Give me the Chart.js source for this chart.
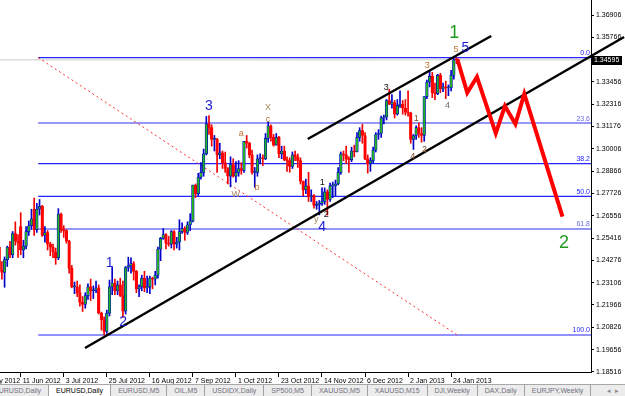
<!DOCTYPE html>
<html>
<head>
<meta charset="utf-8">
<script src="https://cdn.jsdelivr.net/npm/chart.js@4.4.1/dist/chart.umd.min.js"></script>
<style>
  body { margin: 0; background: #fff; width: 625px; height: 396px; overflow: hidden; font-family: "Liberation Sans", Arial, sans-serif; }
  #wrap { position: absolute; left: 0; top: 0; width: 625px; height: 384px; }
  #tabs { position: absolute; left: 0; top: 384px; width: 625px; height: 12px; background: #ececec; border-top: 1px solid #a8a8a8; overflow: hidden; box-sizing: border-box; }
  #tabs .strip { position: absolute; left: -13px; top: 0; display: flex; white-space: nowrap; }
  #tabs .tab { font-size: 7px; color: #70707e; padding: 0 7px; height: 11px; line-height: 11px; border-right: 1px solid #a0a0a0; }
  #tabs .tab.active { background: #fff; color: #000; }
  #tabs .arrows { position: absolute; right: 2px; top: 0; font-size: 7px; line-height: 11px; color: #8a8a8a; letter-spacing: 4px; }
</style>
</head>
<body>
<div id="wrap"><canvas id="myChart" width="625" height="384"></canvas></div>
<div id="tabs">
  <div class="strip">
    <span class="tab">EURUSD,Daily</span>
    <span class="tab active">EURUSD,Daily</span>
    <span class="tab">EURUSD,M5</span>
    <span class="tab">OIL,M5</span>
    <span class="tab">USDIDX,Daily</span>
    <span class="tab">SP500,M5</span>
    <span class="tab">XAUUSD,M5</span>
    <span class="tab">XAUUSD,M15</span>
    <span class="tab">DJI,Weekly</span>
    <span class="tab">DAX,Daily</span>
    <span class="tab">EURJPY,Weekly</span>
  </div>
  <span class="arrows">◂▸</span>
</div>
<script>
// EURUSD daily bars, bar index 0 = 11 Jun 2012 (first bar is index -8 = 30 May 2012)
var firstBar = -8;

var opens = [
    1.2495, 1.2375, 1.2365, 1.2430, 1.2495, 1.2455, 1.2565, 1.2525,
    1.2600, 1.2480, 1.2500, 1.2575, 1.2605, 1.2690, 1.2585, 1.2690, 1.2705, 1.2555,
    1.2570, 1.2510, 1.2495, 1.2470, 1.2440, 1.2665, 1.2585, 1.2580, 1.2525, 1.2385,
    1.2290, 1.2290, 1.2260, 1.2210, 1.2200, 1.2245, 1.2290, 1.2270, 1.2275, 1.2285,
    1.2155, 1.2120, 1.2060, 1.2155, 1.2290, 1.2310, 1.2270, 1.2300, 1.2245, 1.2165,
    1.2390, 1.2400, 1.2410, 1.2370, 1.2280, 1.2290, 1.2335, 1.2285, 1.2290, 1.2335,
    1.2330, 1.2350, 1.2485, 1.2540, 1.2560, 1.2515, 1.2510, 1.2575, 1.2510, 1.2520,
    1.2575, 1.2590, 1.2570, 1.2610, 1.2630, 1.2815, 1.2770, 1.2855, 1.2880, 1.2975,
    1.3130, 1.3110, 1.3050, 1.3050, 1.2970, 1.2980, 1.2930, 1.2900, 1.2860, 1.2920,
    1.2860, 1.2880, 1.2900, 1.2890, 1.3040, 1.3030, 1.2970, 1.2880, 1.2880, 1.2950,
    1.2955, 1.2950, 1.3055, 1.3120, 1.3060, 1.3020, 1.3060, 1.2975, 1.2990, 1.2945,
    1.2940, 1.2910, 1.2970, 1.2960, 1.2940, 1.2835, 1.2790, 1.2810, 1.2755, 1.2760,
    1.2710, 1.2715, 1.2720, 1.2730, 1.2780, 1.2740, 1.2810, 1.2810, 1.2820, 1.2880,
    1.2975, 1.2970, 1.2950, 1.2945, 1.2990, 1.2985, 1.3060, 1.3095, 1.3070, 1.2950,
    1.2925, 1.2940, 1.2995, 1.3075, 1.3080, 1.3160, 1.3165, 1.3250, 1.3230, 1.3240,
    1.3180, 1.3225, 1.3230, 1.3210, 1.3190, 1.3185, 1.3050, 1.3070, 1.3110, 1.3080,
    1.3070, 1.3270, 1.3345, 1.3375, 1.3290, 1.3285, 1.3380, 1.3310, 1.3320, 1.3315,
    1.3315, 1.3380, 1.3460
];
var highs = [
    1.2505, 1.2420, 1.2444, 1.2500, 1.2525, 1.2575, 1.2625, 1.2560,
    1.2672, 1.2530, 1.2600, 1.2630, 1.2690, 1.2748, 1.2720, 1.2740, 1.2710, 1.2600,
    1.2580, 1.2520, 1.2510, 1.2490, 1.2693, 1.2670, 1.2605, 1.2585, 1.2530, 1.2400,
    1.2315, 1.2320, 1.2300, 1.2240, 1.2260, 1.2305, 1.2330, 1.2295, 1.2320, 1.2300,
    1.2160, 1.2135, 1.2170, 1.2325, 1.2390, 1.2330, 1.2320, 1.2335, 1.2320, 1.2395,
    1.2443, 1.2440, 1.2420, 1.2375, 1.2300, 1.2350, 1.2370, 1.2345, 1.2345, 1.2340,
    1.2370, 1.2495, 1.2545, 1.2590, 1.2565, 1.2550, 1.2580, 1.2580, 1.2545, 1.2636,
    1.2620, 1.2600, 1.2625, 1.2667, 1.2815, 1.2820, 1.2875, 1.2930, 1.3000, 1.3168,
    1.3172, 1.3125, 1.3070, 1.3055, 1.3030, 1.2990, 1.2985, 1.2905, 1.2960, 1.2950,
    1.2935, 1.2940, 1.2930, 1.3040, 1.3070, 1.3035, 1.2995, 1.2905, 1.2970, 1.2975,
    1.2970, 1.3080, 1.3140, 1.3125, 1.3075, 1.3080, 1.3065, 1.3015, 1.3015, 1.2960,
    1.2955, 1.2985, 1.2990, 1.2975, 1.2955, 1.2835, 1.2845, 1.2880, 1.2790, 1.2765,
    1.2730, 1.2735, 1.2800, 1.2800, 1.2790, 1.2825, 1.2830, 1.2840, 1.2905, 1.2985,
    1.2990, 1.3015, 1.2960, 1.3010, 1.3020, 1.3085, 1.3110, 1.3127, 1.3085, 1.2970,
    1.2955, 1.3010, 1.3085, 1.3100, 1.3170, 1.3175, 1.3255, 1.3308, 1.3280, 1.3250,
    1.3255, 1.3300, 1.3250, 1.3255, 1.3300, 1.3190, 1.3075, 1.3120, 1.3135, 1.3110,
    1.3270, 1.3355, 1.3403, 1.3395, 1.3340, 1.3385, 1.3390, 1.3340, 1.3350, 1.3330,
    1.3405, 1.3477, 1.3470
];
var lows = [
    1.2360, 1.2330, 1.2288, 1.2395, 1.2440, 1.2440, 1.2505, 1.2442,
    1.2455, 1.2440, 1.2485, 1.2555, 1.2585, 1.2555, 1.2570, 1.2660, 1.2550, 1.2520,
    1.2480, 1.2450, 1.2440, 1.2406, 1.2430, 1.2570, 1.2545, 1.2515, 1.2360, 1.2285,
    1.2255, 1.2240, 1.2190, 1.2163, 1.2180, 1.2225, 1.2220, 1.2230, 1.2260, 1.2150,
    1.2067, 1.2042, 1.2050, 1.2140, 1.2250, 1.2250, 1.2250, 1.2240, 1.2133, 1.2150,
    1.2370, 1.2360, 1.2325, 1.2260, 1.2240, 1.2270, 1.2265, 1.2260, 1.2255, 1.2280,
    1.2300, 1.2335, 1.2425, 1.2535, 1.2485, 1.2500, 1.2490, 1.2480, 1.2490, 1.2480,
    1.2565, 1.2530, 1.2560, 1.2580, 1.2625, 1.2750, 1.2760, 1.2845, 1.2860, 1.2970,
    1.3075, 1.3015, 1.2990, 1.2880, 1.2950, 1.2900, 1.2880, 1.2820, 1.2805, 1.2855,
    1.2830, 1.2860, 1.2870, 1.2880, 1.3005, 1.2955, 1.2870, 1.2803, 1.2860, 1.2925,
    1.2915, 1.2945, 1.3035, 1.3040, 1.3015, 1.3020, 1.2955, 1.2950, 1.2940, 1.2885,
    1.2880, 1.2900, 1.2940, 1.2905, 1.2820, 1.2760, 1.2770, 1.2730, 1.2730, 1.2695,
    1.2690, 1.2661, 1.2710, 1.2715, 1.2660, 1.2730, 1.2750, 1.2760, 1.2815, 1.2870,
    1.2940, 1.2925, 1.2880, 1.2935, 1.2960, 1.2985, 1.3040, 1.3030, 1.2945, 1.2876,
    1.2885, 1.2930, 1.2985, 1.3050, 1.3060, 1.3130, 1.3150, 1.3230, 1.3210, 1.3160,
    1.3175, 1.3215, 1.3180, 1.3175, 1.3170, 1.3030, 1.2998, 1.3050, 1.3060, 1.3035,
    1.3040, 1.3260, 1.3320, 1.3265, 1.3255, 1.3280, 1.3290, 1.3295, 1.3260, 1.3275,
    1.3300, 1.3360, 1.3440
];
var closes = [
    1.2375, 1.2365, 1.2430, 1.2495, 1.2455, 1.2565, 1.2525, 1.2515,
    1.2480, 1.2500, 1.2575, 1.2605, 1.2640, 1.2585, 1.2690, 1.2705, 1.2555, 1.2570,
    1.2510, 1.2495, 1.2470, 1.2440, 1.2665, 1.2585, 1.2580, 1.2525, 1.2385, 1.2290,
    1.2290, 1.2260, 1.2210, 1.2200, 1.2245, 1.2290, 1.2270, 1.2275, 1.2285, 1.2155,
    1.2120, 1.2060, 1.2155, 1.2290, 1.2310, 1.2270, 1.2300, 1.2245, 1.2165, 1.2390,
    1.2400, 1.2410, 1.2370, 1.2280, 1.2290, 1.2335, 1.2285, 1.2290, 1.2335, 1.2330,
    1.2350, 1.2485, 1.2540, 1.2560, 1.2515, 1.2510, 1.2575, 1.2510, 1.2520, 1.2575,
    1.2590, 1.2570, 1.2610, 1.2630, 1.2815, 1.2770, 1.2855, 1.2880, 1.2975, 1.3130,
    1.3110, 1.3050, 1.3050, 1.2970, 1.2980, 1.2930, 1.2900, 1.2860, 1.2920, 1.2860,
    1.2880, 1.2900, 1.2890, 1.3040, 1.3030, 1.2970, 1.2880, 1.2880, 1.2950, 1.2955,
    1.2950, 1.3055, 1.3120, 1.3060, 1.3020, 1.3060, 1.2975, 1.2990, 1.2945, 1.2940,
    1.2910, 1.2970, 1.2960, 1.2940, 1.2835, 1.2790, 1.2810, 1.2755, 1.2760, 1.2710,
    1.2715, 1.2720, 1.2730, 1.2780, 1.2740, 1.2810, 1.2810, 1.2820, 1.2880, 1.2975,
    1.2970, 1.2950, 1.2945, 1.2990, 1.2985, 1.3060, 1.3095, 1.3070, 1.2950, 1.2925,
    1.2940, 1.2995, 1.3075, 1.3080, 1.3160, 1.3165, 1.3250, 1.3230, 1.3240, 1.3180,
    1.3225, 1.3230, 1.3210, 1.3190, 1.3185, 1.3050, 1.3070, 1.3110, 1.3080, 1.3070,
    1.3270, 1.3345, 1.3375, 1.3290, 1.3285, 1.3380, 1.3310, 1.3320, 1.3315, 1.3315,
    1.3380, 1.3460, 1.34595
];

// time axis: one label every 16 bars
var xTickBars = [-16, 0, 16, 32, 48, 64, 80, 96, 112, 128, 144, 160];
var xTickLabels = ['18 May 2012', '11 Jun 2012', '3 Jul 2012', '25 Jul 2012', '16 Aug 2012', '7 Sep 2012',
    '1 Oct 2012', '23 Oct 2012', '14 Nov 2012', '6 Dec 2012', '2 Jan 2013', '24 Jan 2013'];

// price axis labels
var yTickValues = [1.36906, 1.35766, 1.33456, 1.32316, 1.31176, 1.30006, 1.28866, 1.27726,
    1.26556, 1.25416, 1.24276, 1.23106, 1.21966, 1.20826, 1.19656, 1.18516];
var bidPrice = 1.34595;

// fibonacci retracement (bar, price) of both anchors
var fibStartBar = 6.5, fibEndBar = 162.3;
var fibTop = 1.3471, fibBottom = 1.2042;
var fibLevels = [0, 23.6, 38.2, 50, 61.8, 100];

// trend lines
var lowerTrendBars = [23.9, 224.3];
var lowerTrendPrices = [1.1975, 1.35773];
var upperTrendBars = [106.7, 174.9];
var upperTrendPrices = [1.30518, 1.35824];

// projected wave path
var projBars = [162.3, 166.0, 169.6, 176.6, 180.0, 183.9, 187.2, 201.4];
var projPrices = [1.34639, 1.32903, 1.33712, 1.30811, 1.32218, 1.31290, 1.32836, 1.26514];

// wave counts
var waveTexts = ['1', '5', '5', '3', 'X', 'c', 'a', 'b', 'W', '1', 'y', '2', '4', '3', '3', '1', '2', '4', '4', '1', '2', '2'];
var waveBars = [161.2, 165.3, 161.8, 70.0, 91.9, 91.9, 82.0, 87.8, 79.9, 112.1, 109.9, 113.6, 112.1, 135.9, 151.1, 147.0, 150.1, 145.7, 158.7, 33.1, 38.1, 202.0];
var wavePrices = [1.35979, 1.35206, 1.35103, 1.32218, 1.32140, 1.31496, 1.30775, 1.28029, 1.27633, 1.28266, 1.26380, 1.26602, 1.25999, 1.33161, 1.34278, 1.31584, 1.29987, 1.29606, 1.32218, 1.24129, 1.21105, 1.25160];
var waveDegree = ['g', 'B', 'o', 'B', 'x', 'o', 'o', 'o', 'x', 'k', 'x', 'k', 'B', 'k', 'o', 'r', 'r', 'r', 'z', 'B', 'B', 'g'];

var degreeStyle = {
    g: { size: 18, color: '#1f9a1f' },
    B: { size: 14, color: '#1c1cd6' },
    o: { size: 9, color: '#c0702e' },
    x: { size: 9, color: '#a8865e' },
    k: { size: 9, color: '#101010' },
    r: { size: 9, color: '#7e5030' },
    z: { size: 9, color: '#6a6a6a' }
};

var isUp = closes.map(function (c, k) { return c >= opens[k]; });
var wicks = highs.map(function (h, k) { return { x: firstBar + k, y: [lows[k], h] }; });
var bodies = opens.map(function (o, k) { return { x: firstBar + k, y: [o, closes[k]] }; });

function line(bars, prices) {
    return bars.map(function (b, k) { return { x: b, y: prices[k] }; });
}

var xMin = -7.7, xMax = 212;
var axisFont = { family: 'Liberation Sans', size: 7 };

var datasets = [];

fibLevels.forEach(function (lv) {
    var price = fibTop - (fibTop - fibBottom) * lv / 100;
    var soft = (lv === 23.6 || lv === 61.8);
    datasets.push({
        type: 'line',
        data: [{ x: fibStartBar, y: price }, { x: xMax, y: price }],
        borderColor: soft ? 'rgba(80,80,240,0.6)' : '#2424ff',
        borderWidth: soft ? 2 : 1.2,
        pointRadius: 0,
        order: 10
    });
});

// bid line
datasets.push({
    type: 'line',
    data: [{ x: xMin, y: bidPrice }, { x: xMax, y: bidPrice }],
    borderColor: '#cccccc', borderWidth: 1, pointRadius: 0, order: 11
});

datasets.push({
    type: 'line',
    data: [{ x: fibStartBar, y: fibTop }, { x: fibEndBar, y: fibBottom }],
    borderColor: '#ff3030', borderWidth: 1, borderDash: [2, 3], pointRadius: 0, order: 9
});

datasets.push({
    type: 'bar', data: wicks,
    backgroundColor: isUp.map(function (u) { return u ? '#0000c8' : '#f00000'; }),
    grouped: false, categoryPercentage: 1, barPercentage: 1, maxBarThickness: 1,
    order: 6
});
datasets.push({
    type: 'bar', data: bodies,
    backgroundColor: isUp.map(function (u) { return u ? '#22b422' : '#ff0000'; }),
    borderColor: isUp.map(function (u) { return u ? '#0000c8' : '#ff0000'; }),
    borderWidth: 0.7, borderSkipped: false, minBarLength: 1,
    grouped: false, categoryPercentage: 1, barPercentage: 1,
    order: 5
});

datasets.push({
    type: 'line', data: line(lowerTrendBars, lowerTrendPrices),
    borderColor: '#000', borderWidth: 2.5, pointRadius: 0, clip: false, order: 3
});
datasets.push({
    type: 'line', data: line(upperTrendBars, upperTrendPrices),
    borderColor: '#000', borderWidth: 2.5, pointRadius: 0, order: 3
});
datasets.push({
    type: 'line', data: line(projBars, projPrices),
    borderColor: '#ff0000', borderWidth: 4, pointRadius: 0, tension: 0,
    borderJoinStyle: 'miter', order: 1
});

var overlay = {
    id: 'overlay',
    afterDatasetsDraw: function (chart) {
        var ctx = chart.ctx, xs = chart.scales.x, ys = chart.scales.y;
        ctx.save();
        // fibo level captions
        ctx.textAlign = 'right';
        ctx.textBaseline = 'bottom';
        ctx.font = '7px "Liberation Sans"';
        fibLevels.forEach(function (lv) {
            var price = fibTop - (fibTop - fibBottom) * lv / 100;
            var soft = (lv === 23.6 || lv === 61.8);
            ctx.fillStyle = soft ? '#6a6ae6' : '#2424ff';
            ctx.fillText(lv.toFixed(1), xs.right - 1, ys.getPixelForValue(price) - 1);
        });
        // wave counts
        ctx.textAlign = 'center';
        ctx.textBaseline = 'middle';
        waveTexts.forEach(function (t, k) {
            var st = degreeStyle[waveDegree[k]];
            ctx.font = st.size + 'px "Liberation Sans"';
            ctx.fillStyle = st.color;
            ctx.fillText(t, xs.getPixelForValue(waveBars[k]), ys.getPixelForValue(wavePrices[k]));
        });
        ctx.restore();
    },
    afterDraw: function (chart) {
        var ctx = chart.ctx, ys = chart.scales.y;
        var py = ys.getPixelForValue(bidPrice);
        ctx.save();
        ctx.fillStyle = '#000';
        ctx.fillRect(ys.left + 1, Math.round(py) - 4, 30, 9);
        ctx.fillStyle = '#fff';
        ctx.font = '7px "Liberation Sans"';
        ctx.textAlign = 'left';
        ctx.textBaseline = 'middle';
        ctx.fillText(bidPrice.toFixed(5), ys.left + 3, Math.round(py) + 0.5);
        ctx.restore();
    }
};

new Chart(document.getElementById('myChart'), {
    type: 'bar',
    data: { datasets: datasets },
    plugins: [overlay],
    options: {
        responsive: false,
        animation: false,
        devicePixelRatio: 1,
        events: [],
        layout: { padding: 0, autoPadding: false },
        plugins: { legend: { display: false }, tooltip: { enabled: false } },
        scales: {
            x: {
                type: 'linear', min: xMin, max: xMax, offset: false,
                afterBuildTicks: function (s) { s.ticks = xTickBars.map(function (v) { return { value: v }; }); },
                afterFit: function (s) { s.height = 12; s.paddingLeft = 0; s.paddingRight = 0; },
                ticks: {
                    autoSkip: false, maxRotation: 0, minRotation: 0, align: 'start', labelOffset: 2, padding: 0,
                    color: '#000', font: axisFont,
                    callback: function (v, k) { return xTickLabels[k]; }
                },
                grid: { drawOnChartArea: false, drawTicks: true, tickLength: 5, color: '#000', offset: false },
                border: { display: true, color: '#000', width: 1 }
            },
            y: {
                type: 'linear', position: 'right', min: 1.18514, max: 1.37679,
                afterBuildTicks: function (s) { s.ticks = yTickValues.map(function (v) { return { value: v }; }); },
                afterFit: function (s) { s.width = 34; s.paddingTop = 0; s.paddingBottom = 0; },
                ticks: {
                    autoSkip: false, padding: 2, color: '#000', font: axisFont,
                    callback: function (v) { return v.toFixed(5); }
                },
                grid: { drawOnChartArea: false, drawTicks: true, tickLength: 3, color: '#000' },
                border: { display: true, color: '#000', width: 1 }
            }
        }
    }
});
</script>
</body>
</html>
